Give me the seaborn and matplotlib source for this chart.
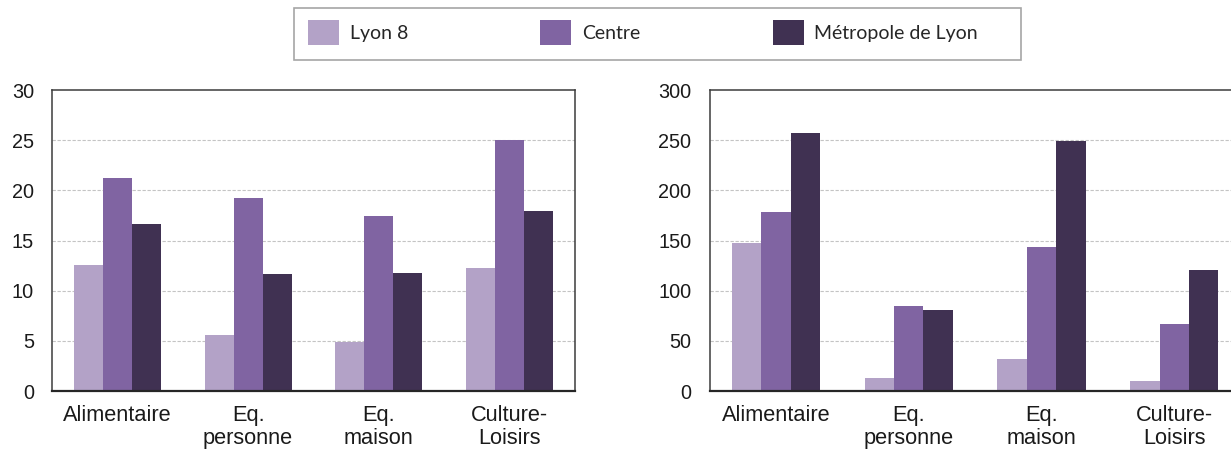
import matplotlib
matplotlib.use("Agg")
import matplotlib.pyplot as plt
from matplotlib.patches import Rectangle
import seaborn as sns
import pandas as pd

# Categories and zones
categories = ["Alimentaire", "Eq.\npersonne", "Eq.\nmaison", "Culture-\nLoisirs"]
zones = ["Lyon 8", "Centre", "Métropole de Lyon"]
palette = ["#B3A2C7", "#8064A2", "#403152"]

# Left panel values (scale 0-30)
left_lyon8 = [12.6, 5.6, 4.9, 12.3]
left_centre = [21.2, 19.2, 17.4, 25.0]
left_metro = [16.6, 11.7, 11.8, 17.9]

# Right panel values (scale 0-300)
right_lyon8 = [147.5, 12.6, 31.8, 9.6]
right_centre = [178.0, 85.0, 144.0, 67.3]
right_metro = [257.0, 81.0, 249.0, 121.0]

left_ticks = [0, 5, 10, 15, 20, 25, 30]
right_ticks = [0, 50, 100, 150, 200, 250, 300]


def long_frame(a, b, c):
    rows = []
    for zone, vals in zip(zones, (a, b, c)):
        for cat, v in zip(categories, vals):
            rows.append({"cat": cat, "zone": zone, "val": v})
    return pd.DataFrame(rows)


sns.set_style("white")
plt.rcParams["font.family"] = ["Liberation Sans", "DejaVu Sans"]

W, H = 1231, 450
fig = plt.figure(figsize=(W / 100, H / 100), dpi=100)
ax1 = fig.add_axes([0.0422, 0.131, 0.4249, 0.669])
ax2 = fig.add_axes([0.5764, 0.131, 0.4314, 0.669])

panels = [
    (ax1, long_frame(left_lyon8, left_centre, left_metro), left_ticks),
    (ax2, long_frame(right_lyon8, right_centre, right_metro), right_ticks),
]

for ax, df, ticks in panels:
    sns.barplot(data=df, x="cat", y="val", hue="zone", hue_order=zones,
                order=categories, palette=palette, saturation=1,
                width=0.665, linewidth=0, ax=ax, legend=True)
    ax.set_ylim(ticks[0], ticks[-1])
    ax.set_yticks(ticks)
    ax.set_xlim(-0.5, 3.5)
    ax.set_xlabel("")
    ax.set_ylabel("")
    ax.tick_params(axis="both", length=0, colors="#1a1a1a")
    ax.tick_params(axis="y", pad=13, labelsize=14.3)
    ax.tick_params(axis="x", pad=10, labelsize=15.7)
    for lab in ax.get_xticklabels():
        lab.set_linespacing(1.16)
    for t in ticks[1:-1]:
        ax.axhline(t, color="#C4C4C4", lw=0.8, ls=(0, (3, 1.5)), zorder=0)
    for side in ["left", "right", "top"]:
        ax.spines[side].set_color("#3c3c3c")
        ax.spines[side].set_linewidth(1.1)
        ax.spines[side].set_visible(True)
    ax.spines["bottom"].set_color("#262626")
    ax.spines["bottom"].set_linewidth(1.6)
    ax.spines["bottom"].set_visible(True)
    ax.set_axisbelow(True)

handles, labels = ax1.get_legend_handles_labels()
ax1.get_legend().remove()
ax2.get_legend().remove()

# Legend entries, centred inside a separately drawn frame
fig.legend(handles, labels, ncol=3, loc="center",
           bbox_to_anchor=(643 / W, 1 - 32.2 / H),
           prop={"family": "Lato", "size": 14},
           handlelength=1.6, handleheight=1.6, handletextpad=0.55,
           columnspacing=6.8, borderpad=0, borderaxespad=0,
           frameon=False)
fig.patches.append(Rectangle((294 / W, 1 - 59.5 / H), 727 / W, 52 / H,
                             transform=fig.transFigure, fill=False,
                             edgecolor="#A6A6A6", linewidth=1.2))

fig.savefig("out.png", dpi=100)
